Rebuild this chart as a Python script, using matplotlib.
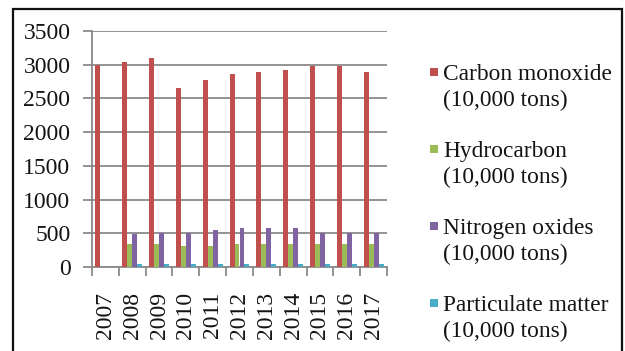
import matplotlib
matplotlib.use("Agg")
import matplotlib.pyplot as plt
from matplotlib.patches import Rectangle
import numpy as np

W, H = 625, 351

years = ["2007", "2008", "2009", "2010", "2011", "2012",
         "2013", "2014", "2015", "2016", "2017"]
carbon_monoxide = [3000, 3040, 3100, 2650, 2775, 2860, 2890, 2920, 2985, 2985, 2890]
hydrocarbon = [0, 335, 335, 305, 305, 335, 335, 335, 335, 335, 335]
nitrogen_oxides = [0, 495, 500, 500, 550, 578, 578, 578, 500, 500, 500]
particulate = [0, 40, 40, 40, 40, 40, 40, 40, 40, 40, 40]

series_names = ["Carbon monoxide", "Hydrocarbon", "Nitrogen oxides", "Particulate matter"]
unit_label = "(10,000 tons)"
colors = ["#C0504D", "#9BBB59", "#8064A2", "#4BACC6"]
y_ticks = [0, 500, 1000, 1500, 2000, 2500, 3000, 3500]

FONT = "Liberation Serif"
TXT = "#141414"
GRID = "#8a8a8a"


def fx(x):
    return x / W


def fy(y):
    return 1 - y / H


fig = plt.figure(figsize=(W / 100, H / 100), dpi=100)
fig.patch.set_facecolor("white")

ax = fig.add_axes([fx(92), fy(267), (387 - 92) / W, (267 - 31) / H])
ax.set_facecolor("white")

n = len(years)
x = np.arange(n)
bw = 0.185
values = [carbon_monoxide, hydrocarbon, nitrogen_oxides, particulate]
for i, (vals, c) in enumerate(zip(values, colors)):
    ax.bar(x + (i - 1.5) * bw, vals, width=bw, color=c, linewidth=0, zorder=3)

ax.set_xlim(-0.5, n - 0.5)
ax.set_ylim(0, 3500)

ax.set_yticks(y_ticks)
ax.set_yticklabels([str(t) for t in y_ticks], fontfamily=FONT, fontsize=17, color=TXT)
ax.yaxis.grid(True, color=GRID, linewidth=1.3, zorder=0)
ax.tick_params(axis="y", length=6.5, width=1.3, color=GRID, pad=9)

# category boundary ticks (major) and centered year labels (minor)
ax.set_xticks(np.arange(-0.5, n, 1.0))
ax.set_xticklabels([])
ax.tick_params(axis="x", which="major", length=6.5, width=1.3, color=GRID)
ax.set_xticks(x, minor=True)
ax.set_xticklabels(years, minor=True, rotation=90, fontfamily=FONT,
                   fontsize=17, color=TXT, va="top", ha="center")
ax.tick_params(axis="x", which="minor", length=0, pad=18)

for s in ["top", "right"]:
    ax.spines[s].set_visible(False)
for s in ["left", "bottom"]:
    ax.spines[s].set_color(GRID)
    ax.spines[s].set_linewidth(1.3)

# legend: square marker beside a two-line label
baselines = [80, 157, 234, 311]
for name, c, yb in zip(series_names, colors, baselines):
    fig.patches.append(Rectangle((fx(430), fy(yb - 4)), 8 / W, 8 / H,
                                 transform=fig.transFigure, facecolor=c,
                                 edgecolor="none"))
    fig.text(fx(443), fy(yb), name, fontfamily=FONT, fontsize=16.8,
             color=TXT, ha="left", va="baseline")
    fig.text(fx(443), fy(yb + 26.5), unit_label, fontfamily=FONT,
             fontsize=16.8, color=TXT, ha="left", va="baseline")

# outer frame around the chart
fig.patches.append(Rectangle((fx(13), fy(370)), (622 - 13) / W, (370 - 9) / H,
                             transform=fig.transFigure, facecolor="none",
                             edgecolor="#111111", linewidth=1.6, clip_on=False))

fig.savefig("out.png", dpi=100)
